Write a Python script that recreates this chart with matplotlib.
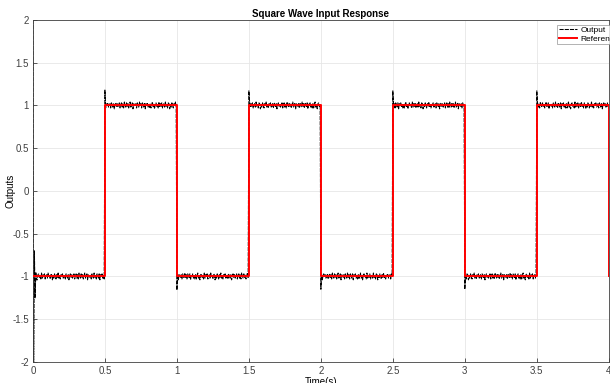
import numpy as np
import matplotlib
matplotlib.use("Agg")
import matplotlib.pyplot as plt

plt.rcParams['font.family'] = ['Liberation Sans', 'DejaVu Sans']

# ---- data ----
seg_starts = [0.0, 0.5, 1.0, 1.5, 2.0, 2.5, 3.0, 3.5, 4.0]
ref_levels = [-1, 1, -1, 1, -1, 1, -1, 1, -1]
spike_vals = [2.0, 1.18, -1.16, 1.17, -1.15, 1.17, -1.15, 1.17]
init_transient = [-2.0, -0.7, -1.25, -0.95, -1.04]
noise = [0.02, -0.03, 0.01, 0.04, -0.02, 0.00, -0.04, 0.02, 0.03, -0.01,
         0.01, -0.03, 0.04, -0.02, 0.02, -0.01, 0.03, -0.03, 0.00, 0.02,
         -0.02, 0.04, -0.01, 0.01, -0.03, 0.03, 0.02, -0.04, 0.01, -0.02,
         0.03, 0.00, -0.03, 0.02, -0.01, 0.04, -0.02, 0.01, -0.03, 0.02,
         0.00, 0.03, -0.02, -0.01, 0.02, -0.03, 0.03, 0.01, -0.02, 0.02,
         -0.04, 0.01, 0.03, -0.01, 0.02, -0.02, 0.00, 0.03, -0.03, 0.01,
         0.03, -0.02, 0.02, -0.03, 0.04, 0.00, -0.02, 0.03, -0.01, 0.02,
         -0.03, 0.01, 0.04, -0.02, 0.00, 0.03, -0.04, 0.02, 0.01, -0.01,
         0.02, -0.03, 0.03, 0.00, -0.02, 0.04, -0.01, 0.02, -0.03, 0.03,
         0.01, -0.02, 0.03, -0.04, 0.02, 0.00, 0.03, -0.02, 0.01, -0.03]
xticks = [0, 0.5, 1, 1.5, 2, 2.5, 3, 3.5, 4]
xticklabels = ['0', '0.5', '1', '1.5', '2', '2.5', '3', '3.5', '4']
yticks = [-2, -1.5, -1, -0.5, 0, 0.5, 1, 1.5, 2]
yticklabels = ['-2', '-1.5', '-1', '-0.5', '0', '0.5', '1', '1.5', '2']

# ---- build output signal ----
n = len(noise)
t_out, y_out = [], []
for k in range(len(seg_starts) - 1):
    t0, t1 = seg_starts[k], seg_starts[k + 1]
    ts = np.linspace(t0, t1, n + 1)[:-1]
    rot = (k * 37) % n
    vals = [ref_levels[k] + noise[(i + rot) % n] for i in range(n)]
    if k == 0:
        vals[1:1 + len(init_transient)] = init_transient
    vals[0] = spike_vals[k]
    t_out.extend(ts)
    y_out.extend(vals)

fig = plt.figure(figsize=(6.1, 3.83), dpi=100)
ax = fig.add_axes([0.054, 0.055, 0.944, 0.893])

ax.plot(t_out, y_out, color='black', lw=0.75, ls='--', dashes=(4, 1), label='Output', zorder=2)
ax.step(seg_starts, ref_levels, where='post', color='#ff0000', lw=1.4, label='Reference', zorder=3)

ax.set_xlim(0, 4)
ax.set_ylim(-2, 2)
ax.set_xticks(xticks)
ax.set_xticklabels(xticklabels)
ax.set_yticks(yticks)
ax.set_yticklabels(yticklabels)
ax.grid(True, color='#e6e6e6', lw=0.6)
ax.set_axisbelow(True)
ax.tick_params(direction='in', length=3, width=0.6, colors='#404040', labelsize=7, pad=3)
for s in ax.spines.values():
    s.set_color('#404040')
    s.set_linewidth(0.6)

ax.set_title('Square Wave Input Response', fontsize=7, fontweight='bold', pad=2)
ax.set_ylabel('Outputs', fontsize=7)
ax.yaxis.set_label_coords(-0.031, 0.5)
ax.set_xlabel('Time(s)', fontsize=7, labelpad=1)

leg = ax.legend(loc='upper right', fontsize=6, frameon=True, fancybox=False,
                edgecolor='#909090', handlelength=2.2, borderpad=0.2,
                labelspacing=0.05, handletextpad=0.4, borderaxespad=0.6,
                bbox_to_anchor=(1.03, 1.0))
leg.get_frame().set_linewidth(0.6)

fig.savefig('out.png', dpi=100)
